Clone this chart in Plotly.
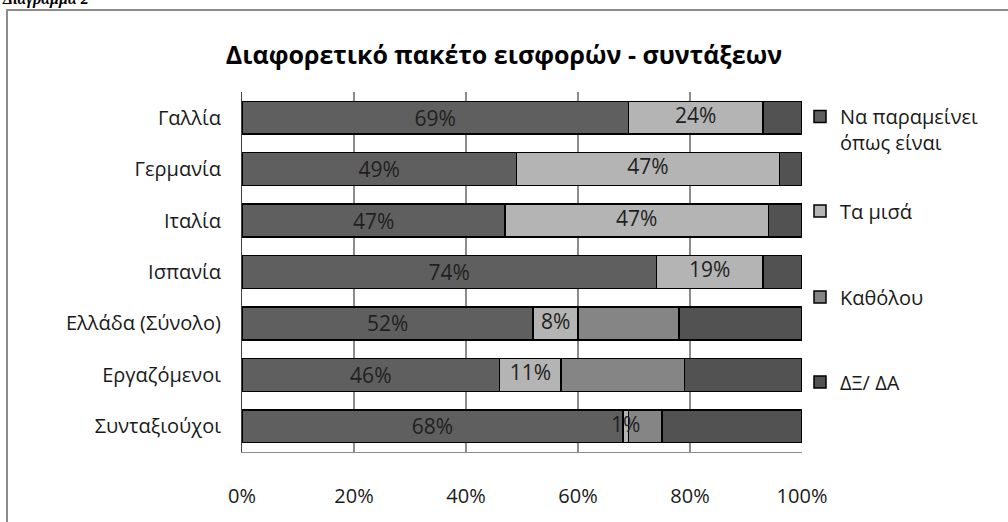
import plotly.graph_objects as go

categories = ["Γαλλία", "Γερμανία", "Ιταλία", "Ισπανία", "Ελλάδα (Σύνολο)", "Εργαζόμενοι", "Συνταξιούχοι"]
series_names = ["Να παραμείνει<br>όπως είναι", "Τα μισά", "Καθόλου", "ΔΞ/ ΔΑ"]
stay = [69, 49, 47, 74, 52, 46, 68]
half = [24, 47, 47, 19, 8, 11, 1]
none_ = [0, 0, 0, 0, 18, 22, 6]
dk = [7, 4, 6, 7, 22, 21, 25]
tick_vals = [0, 20, 40, 60, 80, 100]
tick_text = ["0%", "20%", "40%", "60%", "80%", "100%"]

colors = ["#5f5f5f", "#b4b4b4", "#858585", "#525252"]
values = [stay, half, none_, dk]
legend_ids = ["legend", "legend2", "legend3", "legend4"]
legend_py = [111, 211, 297, 382]   # pixel positions of legend entries

FONT = "Open Sans"
PT, PB = 92, 452  # plot top / bottom pixel
PL, PR = 242, 802


def py2paper(py):
    return (PB - py) / (PB - PT)


def px2paper(px):
    return (px - PL) / (PR - PL)


fig = go.Figure()
for i, (name, vals) in enumerate(zip(series_names, values)):
    fig.add_trace(go.Bar(
        y=categories, x=vals, name=name, orientation="h",
        marker=dict(color=colors[i], line=dict(color="#000000", width=1.5)),
        text=[f"{v}%" for v in vals] if i == 0 else None,
        textposition="inside" if i == 0 else "none",
        insidetextanchor="middle",
        constraintext="none",
        textangle=0,
        textfont=dict(family=FONT, size=21, color="#1f1f1f"),
        legend=legend_ids[i],
        width=0.64,
        hoverinfo="x+y+name",
    ))

# labels of the second series drawn on top of all bars (so the narrow 1% label stays visible)
fig.add_trace(go.Scatter(
    y=categories, x=[s + h / 2 for s, h in zip(stay, half)],
    text=[f"{v}%" for v in half], mode="text", textposition="middle center",
    textfont=dict(family=FONT, size=21, color="#1f1f1f"),
    showlegend=False, hoverinfo="skip", cliponaxis=False,
))

legend_common = dict(xanchor="left", x=px2paper(800), font=dict(family=FONT, size=20, color="#1a1a1a"),
                     itemwidth=30, bgcolor="rgba(0,0,0,0)", borderwidth=0)

layout_legends = {}
for i, lid in enumerate(legend_ids):
    d = dict(legend_common)
    if i == 0:
        d.update(y=py2paper(legend_py[i] - 14), yanchor="top", valign="top")
    else:
        d.update(y=py2paper(legend_py[i]), yanchor="middle")
    layout_legends[lid] = d

fig.update_layout(
    barmode="stack",
    width=1008, height=522,
    margin=dict(l=PL, r=1008 - PR, t=PT, b=522 - PB),
    paper_bgcolor="white", plot_bgcolor="white",
    font=dict(family=FONT, size=20, color="#1a1a1a"),
    title=dict(text="<b>Διαφορετικό πακέτο εισφορών - συντάξεων</b>", x=0.5, xanchor="center",
               y=1 - 55 / 522, yanchor="middle", font=dict(family=FONT, size=25, color="#000000")),
    showlegend=True,
    xaxis=dict(range=[0, 100], tickvals=tick_vals, ticktext=tick_text,
               showgrid=True, gridcolor="#8c8c8c", gridwidth=2,
               showline=True, linecolor="#8c8c8c", linewidth=1, mirror=False,
               zeroline=False, ticks="outside", ticklen=26, tickcolor="rgba(0,0,0,0)",
               tickfont=dict(family=FONT, size=20, color="#1a1a1a")),
    yaxis=dict(autorange="reversed", showline=True, linecolor="#404040", linewidth=1,
               ticks="outside", ticklen=16, tickcolor="rgba(0,0,0,0)",
               tickfont=dict(family=FONT, size=20, color="#1a1a1a")),
    shapes=[
        dict(type="rect", xref="paper", yref="paper",
             x0=px2paper(7), x1=px2paper(1015),
             y0=py2paper(540), y1=py2paper(10),
             line=dict(color="#8c8c8c", width=2), fillcolor="rgba(0,0,0,0)", layer="below"),
    ],
    annotations=[
        dict(text="<b><i>Διάγραμμα 2</i></b>", xref="paper", yref="paper",
             x=px2paper(0), xanchor="left", y=py2paper(10), yanchor="bottom",
             showarrow=False, font=dict(family="Liberation Serif", size=16, color="#000000")),
    ],
    **layout_legends,
)

fig.write_html("out.html", config={"displayModeBar": False},
               post_script="document.body.style.margin='0';document.body.style.overflow='hidden';")
